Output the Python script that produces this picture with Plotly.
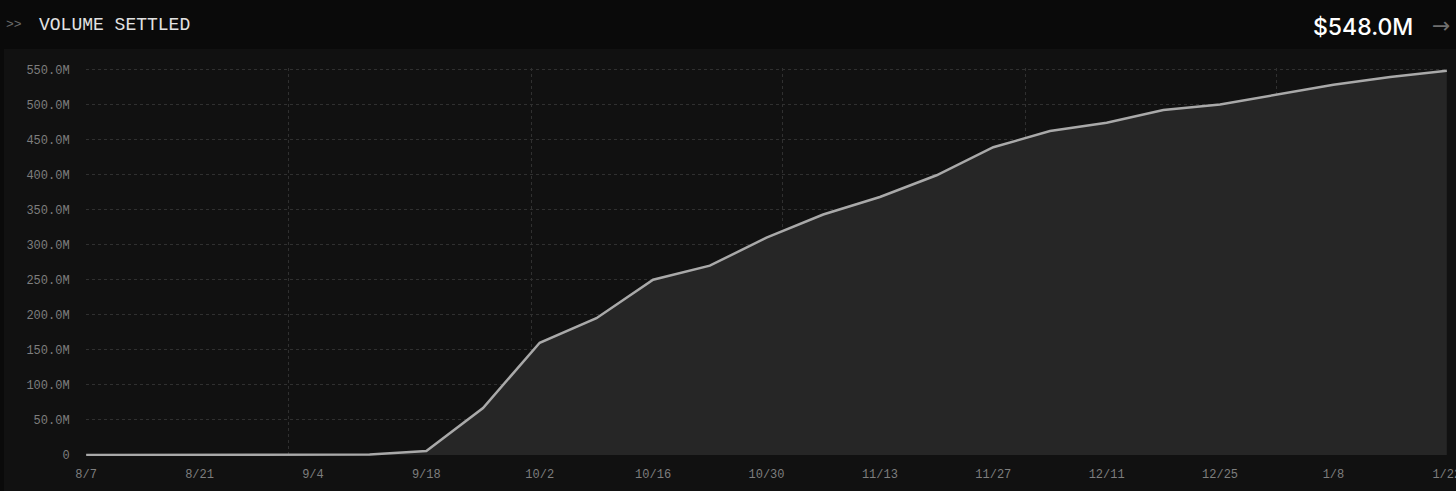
import plotly.graph_objects as go
import pandas as pd

# ---- data (weekly cumulative volume settled, USD) ----
dates = pd.date_range("2024-08-07", "2025-01-22", freq="7D")
volume_m = [0, 0, 0, 0, 0, 0.5, 5.5, 67, 160, 195, 250, 270, 310, 343, 368,
            399, 439, 462, 474, 492, 500, 514, 528, 539, 548]
volume = [v * 1e6 for v in volume_m]

x_tick_vals = pd.date_range("2024-08-07", "2025-01-22", freq="14D")
x_tick_text = [f"{d.month}/{d.day}" for d in x_tick_vals]
month_starts = pd.to_datetime(["2024-09-01", "2024-10-01", "2024-11-01",
                               "2024-12-01", "2025-01-01"])
y_tick_vals = [i * 50e6 for i in range(12)]
y_tick_text = ["0"] + [f"{i * 50:.1f}M" for i in range(1, 12)]

title_text = "VOLUME SETTLED"
total_text = "$548.0M"

# ---- figure ----
W, H = 1456, 491
ML, MR, MT, MB = 86, 9, 68, 35
pw, ph = W - ML - MR, H - MT - MB

def px_x(p):
    return (p - ML) / pw

def px_y(p):
    return 1 - (p - MT) / ph

mono = "Liberation Mono, DejaVu Sans Mono, monospace"
grid = "#303030"
pad = pd.Timedelta(minutes=30)
xrange = [dates[0] - pad, dates[-1] + pad]

fig = go.Figure()
fig.add_trace(go.Scatter(
    x=dates, y=volume, mode="lines", fill="tozeroy",
    fillcolor="#262626", line=dict(color="#a9a9a9", width=2.5),
    hoverinfo="skip", showlegend=False,
))
# invisible trace on overlay axis for month gridlines
fig.add_trace(go.Scatter(x=[dates[0], dates[-1]], y=[0, 0], xaxis="x2",
                         mode="lines", line=dict(width=0), opacity=0,
                         hoverinfo="skip", showlegend=False))

fig.update_layout(
    width=W, height=H,
    margin=dict(l=ML, r=MR, t=MT, b=MB, pad=0, autoexpand=False),
    paper_bgcolor="#0a0a0a", plot_bgcolor="rgba(0,0,0,0)",
    hovermode=False,
    xaxis=dict(
        range=xrange, tickvals=x_tick_vals, ticktext=x_tick_text,
        showgrid=False, zeroline=False, showline=False, automargin=False,
        ticks="outside", ticklen=7, tickcolor="rgba(0,0,0,0)",
        ticklabeloverflow="allow",
        tickfont=dict(family=mono, size=12, color="#7e7e7e"),
    ),
    xaxis2=dict(
        overlaying="x", range=xrange, tickvals=month_starts, showticklabels=False,
        showgrid=True, gridcolor=grid, griddash="dot", gridwidth=1,
        zeroline=False, showline=False, automargin=False,
    ),
    yaxis=dict(
        range=[-1.5e6, 552e6], tickvals=y_tick_vals, ticktext=y_tick_text,
        showgrid=True, gridcolor=grid, griddash="dot", gridwidth=1,
        zeroline=False, showline=False, automargin=False,
        ticks="outside", ticklen=13, tickcolor="rgba(0,0,0,0)",
        tickfont=dict(family=mono, size=12, color="#7e7e7e"),
    ),
    shapes=[dict(type="rect", xref="paper", yref="paper", layer="below",
                 x0=px_x(4), x1=px_x(W + 5), y0=px_y(H + 5), y1=px_y(49),
                 fillcolor="#111111", line=dict(width=0))],
    annotations=[
        dict(text=">>", xref="paper", yref="paper", x=px_x(4), y=px_y(25),
             xanchor="left", yanchor="middle", showarrow=False,
             font=dict(family=mono, size=13, color="#6a6a6a")),
        dict(text=title_text, xref="paper", yref="paper", x=px_x(37), y=px_y(25),
             xanchor="left", yanchor="middle", showarrow=False,
             font=dict(family=mono, size=18, color="#e2e2e2")),
        dict(text=total_text, xref="paper", yref="paper", x=px_x(1415), y=px_y(27),
             xanchor="right", yanchor="middle", showarrow=False,
             font=dict(family="Inter, Noto Sans, sans-serif", size=23,
                       color="#ffffff", weight=500)),
        dict(text="→", xref="paper", yref="paper", x=px_x(1430), y=px_y(26),
             xanchor="left", yanchor="middle", showarrow=False,
             font=dict(family="DejaVu Sans, sans-serif", size=22, color="#6f6f6f")),
    ],
)

fig.write_html("out.html", config={"displayModeBar": False, "staticPlot": True},
               post_script="document.body.style.margin='0';document.body.style.background='#0a0a0a';")
